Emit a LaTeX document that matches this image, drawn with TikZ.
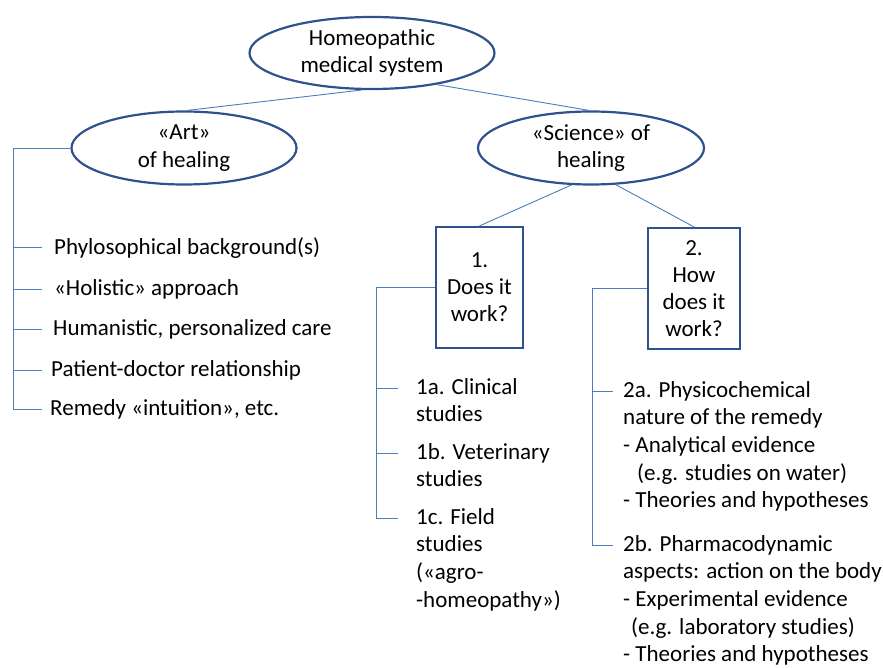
\documentclass[tikz,border=0pt]{standalone}
\usepackage{fontspec}
\setmainfont{Carlito}
\usetikzlibrary{shapes.geometric}
\definecolor{ovalblue}{HTML}{2F528F}
\definecolor{linkblue}{HTML}{4A7EBB}

\begin{document}
\begin{tikzpicture}[
			x=1pt, y=-1pt,
			every node/.style={font=\fontsize{23}{27.7}\selectfont, inner sep=0pt},
			oval/.style={draw=ovalblue, ellipse, line width=2.2pt, align=center},
			question/.style={draw=ovalblue, rectangle, line width=2.2pt, align=center,
				minimum height=121pt, font=\fontsize{23}{27}\selectfont},
			item/.style={anchor=north west, align=left, yshift=10pt},
			link/.style={draw=linkblue, line width=0.9pt},
			]

			\useasboundingbox (0,0) rectangle (883,668);

			% --- Ellipses and question boxes ---
			\node[oval, minimum width=245pt, minimum height=72pt] (hom) at (372,53) {Homeopathic\\medical system};
			\node[oval, minimum width=225pt, minimum height=73pt] (art) at (184,148) {«Art»\\of healing};
			\node[oval, minimum width=226pt, minimum height=73pt] (sci) at (591,148) {«Science» of\\healing};

			\node[question, minimum width=87pt] (q1) at (479.5,287.5) {1.\\Does it\\work?};
			\node[question, minimum width=92pt] (q2) at (694,288.5) {2.\\How\\does it\\work?};

			% --- Bracket corners and tick ends ---
			\coordinate (artbar) at (13,409);
			\coordinate (q1bar) at (376,518);
			\coordinate (q2bar) at (592,545);

			\coordinate (a1t) at (42,247); \coordinate (a2t) at (42,289); \coordinate (a3t) at (42,329);
			\coordinate (a4t) at (42,370); \coordinate (a5t) at (42,409);

			\coordinate (b1t) at (398,388); \coordinate (b2t) at (398,453); \coordinate (b3t) at (398,518);

			\coordinate (c1t) at (613,391); \coordinate (c2t) at (613,545);

			% --- Items ---
			\node[item] (a1) at ([xshift=12pt]a1t) {Phylosophical background(s)};
			\node[item] (a2) at ([xshift=12pt]a2t) {«Holistic» approach};
			\node[item] (a3) at ([xshift=11pt]a3t) {Humanistic, personalized care};
			\node[item] (a4) at ([xshift=9pt]a4t) {Patient-doctor relationship};
			\node[item] (a5) at ([xshift=8pt]a5t) {Remedy «intuition», etc.};

			\node[item] (b1) at ([xshift=18pt]b1t) {1a. Clinical\\studies};
			\node[item] (b2) at ([xshift=18pt]b2t) {1b. Veterinary\\studies};
			\node[item] (b3) at ([xshift=18pt]b3t) {1c. Field\\studies\\(«agro-\\-homeopathy»)};

			\node[item] (c1) at ([xshift=10pt]c1t) {2a. Physicochemical\\nature of the remedy\\- Analytical evidence\\\hspace*{14pt}(e.g. studies on water)\\- Theories and hypotheses};
			\node[item] (c2) at ([xshift=10pt]c2t) {2b. Pharmacodynamic\\aspects: action on the body\\- Experimental evidence\\\hspace*{8pt}(e.g. laboratory studies)\\- Theories and hypotheses};

			% --- Tree links ---
			\draw[link] (hom.255) -- (art.85);
			\draw[link] (hom.334) -- (sci.93);
			\draw[link] (sci.242) -- (q1.north);
			\draw[link] (sci.304) -- (q2.north);

			% --- Brackets ---
			\draw[link] (art.west) -| (artbar) -- (a5t);
			\foreach \i in {1,...,4} \draw[link] (artbar|-a\i t) -- (a\i t);

			\draw[link] (q1.west) -| (q1bar) -- (b3t);
			\foreach \i in {1,2} \draw[link] (q1bar|-b\i t) -- (b\i t);

			\draw[link] (q2.west) -| (q2bar) -- (c2t);
			\draw[link] (q2bar|-c1t) -- (c1t);

		\end{tikzpicture}
\end{document}
